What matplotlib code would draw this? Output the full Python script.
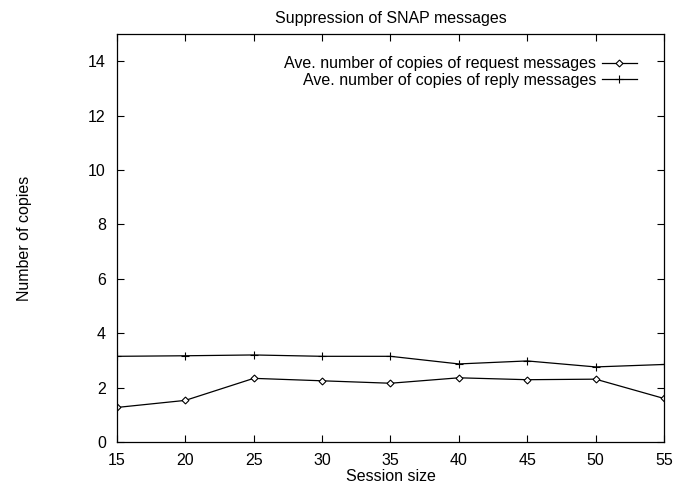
import matplotlib
matplotlib.use("Agg")
import matplotlib.pyplot as plt

plt.rcParams['font.family'] = ['Liberation Sans', 'DejaVu Sans']

session_size = [15, 20, 25, 30, 35, 40, 45, 50, 55]
request_copies = [1.27, 1.53, 2.34, 2.25, 2.16, 2.36, 2.29, 2.31, 1.60]
reply_copies = [3.15, 3.17, 3.20, 3.15, 3.15, 2.87, 2.98, 2.76, 2.85]

fig = plt.figure(figsize=(6.75, 4.91), dpi=100)
ax = fig.add_axes([0.1733, 0.0998, 0.8104, 0.831])

ax.plot(session_size, request_copies, color='black', lw=0.9, marker='D',
        markersize=3.5, markerfacecolor='white', markeredgewidth=0.8,
        label='Ave. number of copies of request messages')
ax.plot(session_size, reply_copies, color='black', lw=0.9, marker='+',
        markersize=6, markeredgewidth=0.8,
        label='Ave. number of copies of reply messages')

ax.set_xlim(15, 55)
ax.set_ylim(0, 15)
ax.set_xticks(range(15, 56, 5))
ax.set_yticks(range(0, 15, 2))
ax.tick_params(direction='in', top=True, right=True, length=5, labelsize=11.5)
ax.tick_params(axis='x', pad=8)
ax.tick_params(axis='y', pad=8)
for s in ax.spines.values():
    s.set_linewidth(0.9)

ax.set_title('Suppression of SNAP messages', fontsize=11.5, pad=8)
ax.set_xlabel('Session size', fontsize=11.5, labelpad=1)
ax.set_ylabel('Number of copies', fontsize=11.5, labelpad=40)

ax.legend(loc='upper right', bbox_to_anchor=(0.971, 0.973), frameon=False,
          markerfirst=False, fontsize=11.5, handlelength=2.2, borderaxespad=0.3,
          labelspacing=0.1, handletextpad=0.35)

fig.savefig('out.png', dpi=100)
